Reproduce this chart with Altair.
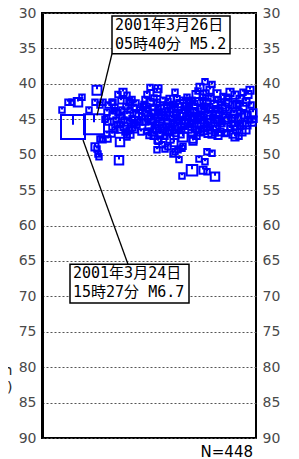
import altair as alt
import pandas as pd

# ---- hypocentres: [distance along section (km), depth (km), magnitude] ----
main_events = [[7.75, 46.1, 6.7], [13.0, 45.7, 5.2]]

west_group = [
    [5.0, 43.7, 1], [6.5, 42.6, 1], [7.5, 42.6, 1], [9.0, 42.6, 2], [10.0, 41.9, 1],
    [11.75, 43.7, 1], [13.75, 40.9, 2.2], [13.25, 42.6, 1], [14.5, 43.0, 1], [15.25, 42.6, 1],
    [16.5, 43.0, 1], [16.25, 44.0, 1], [17.75, 42.6, 1], [15.0, 47.8, 1], [16.5, 47.8, 1],
    [16.25, 47.1, 1], [17.5, 47.1, 1], [15.75, 45.0, 1], [16.5, 45.4, 1], [13.75, 49.2, 1],
    [14.0, 49.9, 1], [14.25, 50.3, 1], [15.25, 47.9, 1], [19.5, 48.2, 2], [21.25, 47.5, 1],
    [19.25, 50.8, 2], [14.5, 47.8, 1], [13.25, 48.9, 1.5],
]

inner_group = [
    [19.0, 41.5, 1], [20.25, 41.2, 1.5], [21.25, 41.6, 1], [22.0, 42.6, 1], [22.5, 42.2, 1],
    [17.5, 42.6, 1], [18.25, 43.3, 1], [17.75, 44.4, 1.5], [19.0, 44.0, 1], [20.0, 43.7, 1],
    [21.0, 43.2, 1], [22.0, 43.7, 1], [23.0, 43.3, 1], [21.25, 44.4, 1.5], [18.5, 45.1, 1],
    [19.5, 45.7, 1], [20.5, 45.1, 1], [21.5, 45.4, 1.5], [22.5, 44.9, 1], [23.5, 44.3, 1],
    [19.5, 46.4, 1.5], [21.25, 47.2, 1], [20.75, 46.8, 1], [22.5, 46.1, 1.5], [23.75, 45.8, 1],
    [17.5, 46.1, 1], [18.25, 46.5, 1], [23.25, 46.5, 1], [22.0, 47.1, 1.5], [24.0, 45.1, 1],
    [24.5, 43.7, 1], [24.5, 45.4, 1], [25.0, 44.6, 1], [23.25, 45.5, 1], [18.75, 45.7, 1],
    [20.0, 44.6, 1], [18.0, 43.8, 1], [19.75, 42.4, 1], [21.75, 42.5, 1], [23.5, 42.7, 1],
    [24.25, 44.2, 1.5], [22.75, 45.6, 1], [20.5, 46.0, 1.5], [21.75, 46.6, 1], [24.75, 46.8, 1],
    [25.25, 43.2, 1],
]

central_group = [
    [27.0, 40.5, 1], [29.0, 40.7, 1.5], [26.25, 41.5, 1], [28.75, 41.2, 1.5], [33.25, 41.2, 1],
    [25.75, 42.2, 1], [26.5, 43.6, 1], [25.5, 42.9, 1], [27.0, 42.6, 1.5], [27.75, 43.3, 1],
    [28.75, 42.6, 1], [29.5, 43.1, 1.5], [30.25, 42.3, 1], [31.25, 43.0, 1], [32.0, 42.2, 1.5],
    [32.75, 42.9, 1], [33.75, 42.1, 1], [34.5, 42.8, 1.5], [35.25, 42.3, 1], [26.0, 44.0, 1.5],
    [27.0, 44.6, 1], [28.0, 44.0, 1], [29.0, 44.7, 1.5], [30.0, 44.0, 1], [30.75, 44.7, 1],
    [31.75, 44.0, 1.5], [32.5, 44.9, 1], [33.5, 44.0, 1], [34.5, 44.6, 1.5], [35.5, 43.7, 1],
    [25.75, 45.4, 1], [26.75, 46.0, 1.5], [27.5, 45.3, 1], [28.5, 45.8, 1], [29.5, 45.4, 1.5],
    [30.25, 46.1, 1], [31.25, 45.4, 1], [32.0, 46.1, 1.5], [33.0, 45.5, 1], [34.0, 46.0, 1.5],
    [35.0, 45.3, 1], [26.25, 46.7, 1], [27.5, 46.8, 1.5], [28.5, 46.5, 1], [29.5, 47.0, 1.5],
    [30.5, 46.5, 1], [31.5, 46.8, 1], [32.5, 46.5, 1.5], [33.5, 47.0, 1], [34.5, 46.5, 1],
    [29.5, 47.2, 1], [29.0, 47.9, 1.5], [26.5, 44.9, 1], [28.25, 44.2, 1.5], [30.0, 45.1, 1],
    [32.0, 44.5, 1.5], [34.0, 45.1, 1], [28.25, 46.3, 1.5], [31.0, 46.0, 1], [33.25, 46.4, 1.5],
    [29.0, 43.6, 1], [32.25, 43.5, 1.5], [35.5, 46.0, 1],
    [26.0, 43.3, 1.5], [27.25, 45.0, 1.5], [28.0, 42.0, 1], [29.75, 44.4, 1.5], [30.5, 43.5, 1.5],
    [31.5, 42.5, 1], [31.0, 44.5, 1.5], [33.0, 43.5, 1.5], [33.75, 44.8, 1], [34.0, 43.3, 1.5],
    [35.0, 44.2, 1.5], [35.75, 45.6, 1.5], [26.75, 47.3, 1], [28.0, 47.3, 1.5], [30.75, 47.4, 1],
    [31.75, 46.6, 1.5], [33.75, 46.0, 1.5], [34.75, 47.2, 1], [30.0, 48.6, 1], [33.0, 48.3, 1.5],
]

deep_scatter = [
    [29.0, 48.1, 1], [32.0, 47.8, 1.5], [35.25, 47.5, 2.2], [37.75, 48.1, 1.5], [28.75, 49.3, 1],
    [30.75, 49.2, 1], [31.5, 48.9, 1], [33.25, 49.6, 1], [32.75, 49.9, 1], [34.0, 49.3, 1],
    [35.0, 49.1, 1], [35.25, 48.8, 1], [34.25, 50.7, 1], [41.25, 49.6, 1], [42.5, 49.8, 1],
    [39.25, 50.6, 1], [40.75, 51.0, 1], [37.5, 52.2, 2.8], [35.0, 53.0, 1], [40.25, 52.2, 1.5],
    [41.25, 52.4, 1], [43.25, 53.1, 2], [48.25, 47.5, 1.5],
]

eastern_group = [
    [40.75, 39.7, 1], [42.5, 40.1, 1], [39.5, 40.5, 1.5], [42.0, 40.9, 1.5], [36.25, 41.9, 1],
    [38.5, 41.5, 1.5], [37.0, 42.6, 1], [36.0, 43.2, 1.5], [37.5, 42.3, 1], [38.25, 43.2, 1],
    [39.25, 42.5, 1.5], [40.25, 41.9, 1], [41.25, 42.6, 1.5], [42.25, 42.0, 1], [43.0, 42.9, 1.5],
    [44.0, 42.2, 1], [45.0, 43.0, 1.5], [36.5, 44.0, 1], [37.5, 44.6, 1.5], [38.5, 43.9, 1],
    [39.5, 44.4, 1.5], [40.5, 43.7, 1], [41.5, 44.4, 1.5], [42.5, 43.7, 1], [43.5, 44.3, 1.5],
    [44.5, 43.7, 1], [45.5, 44.4, 1], [36.0, 45.1, 1.5], [37.0, 45.7, 1], [38.0, 45.1, 1.5],
    [39.0, 45.8, 1], [40.0, 45.1, 1.5], [41.0, 45.7, 1], [42.0, 45.0, 1.5], [43.0, 45.6, 1],
    [44.0, 45.0, 1.5], [45.0, 45.6, 1], [36.5, 46.4, 1.5], [37.5, 47.0, 1.5], [38.5, 46.4, 1],
    [39.5, 46.8, 1.5], [40.5, 46.3, 1], [41.5, 47.0, 1.5], [42.5, 47.1, 1.5], [43.5, 46.3, 1],
    [44.5, 46.8, 1.5], [37.75, 47.8, 1.5], [36.0, 44.5, 1], [38.0, 44.8, 1], [39.75, 45.6, 1.5],
    [41.75, 46.1, 1], [43.75, 45.1, 1.5], [39.25, 46.4, 1], [42.75, 44.7, 1], [45.5, 46.1, 1.5],
    [36.5, 43.5, 1], [40.75, 43.2, 1], [44.25, 44.3, 1],
    [36.75, 42.4, 1], [38.0, 42.9, 1.5], [39.75, 43.7, 1.5], [40.25, 42.4, 1], [41.75, 43.3, 1.5],
    [43.5, 43.5, 1], [44.75, 42.6, 1], [45.75, 43.3, 1.5], [37.0, 43.9, 1.5], [38.75, 44.9, 1.5],
    [40.5, 44.7, 1], [42.25, 45.5, 1.5], [43.25, 46.9, 1], [44.75, 45.3, 1], [46.0, 44.8, 1.5],
    [37.25, 46.1, 1], [38.75, 47.4, 1], [40.5, 46.6, 1.5], [42.0, 46.6, 1], [44.0, 47.3, 1.5],
    [45.75, 47.0, 1], [41.0, 41.3, 1], [39.0, 41.0, 1], [43.75, 41.4, 1.5], [45.25, 41.8, 1],
]

far_east_group = [
    [47.0, 41.2, 1.5], [48.25, 41.6, 1.5], [49.5, 42.2, 1.5], [51.5, 41.5, 1.5], [46.5, 42.6, 1.5],
    [47.75, 43.0, 1.5], [49.0, 42.8, 1], [50.25, 43.2, 1.5], [46.75, 43.7, 1], [48.0, 44.3, 1.5],
    [49.25, 43.9, 1], [50.5, 44.4, 1.5], [46.5, 45.1, 1.5], [47.75, 45.6, 1], [49.0, 45.0, 1.5],
    [50.25, 45.6, 1], [51.25, 45.8, 1.5], [52.5, 45.4, 1.5], [52.0, 45.1, 1], [53.0, 45.0, 1],
    [50.0, 46.8, 1.5], [47.75, 47.1, 1.5], [47.0, 46.3, 1], [48.75, 46.4, 1.5],
    [46.25, 41.9, 1], [48.75, 42.9, 1.5], [51.0, 42.6, 1.5], [52.25, 43.0, 1], [47.5, 44.9, 1.5],
    [49.75, 44.7, 1.5], [51.5, 44.3, 1], [52.75, 44.1, 1.5], [48.25, 45.9, 1.5], [49.5, 46.0, 1],
    [51.0, 46.5, 1.5], [46.25, 46.9, 1], [49.25, 47.4, 1], [52.0, 40.9, 1.5], [50.25, 41.2, 1],
]

# ---- annotations ----
note_texts = ["2001年3月26日\n05時40分 M5.2", "2001年3月24日\n15時27分 M6.7"]
note_left = [17.5, 7.0]
note_right = [47.0, 36.75]
note_top = [30.42, 65.47]
note_bottom = [35.75, 70.94]
leader_from_x = [17.5, 21.5]
leader_from_depth = [35.75, 65.47]
leader_to_x = [13.75, 10.25]
leader_to_depth = [44.44, 47.94]

depth_ticks = list(range(30, 95, 5))
count_label = "N=448"
depth_title = ["Depth", "(km)"]

rows = []
for grp in [west_group, inner_group, central_group, deep_scatter, eastern_group,
            far_east_group, main_events]:
    for x, d, m in grp:
        rows.append({"x": x, "depth": d, "mag": m})
pts = pd.DataFrame(rows)

notes = pd.DataFrame({
    "text": note_texts, "x": note_left, "x2": note_right,
    "top": note_top, "bottom": note_bottom,
    "lx": leader_from_x, "ld": leader_from_depth,
    "tx": leader_to_x, "td": leader_to_depth,
})

xscale = alt.Scale(domain=[0, 53.5], nice=False)
yscale = alt.Scale(domain=[30, 90], reverse=True, nice=False)

left_axis = alt.Axis(
    values=depth_ticks, orient="left", ticks=False, labelPadding=6,
    labelFont="DejaVu Sans", labelFontSize=14, labelColor="#4a4a4a",
    grid=True, gridColor="#555555", gridDash=[2, 2], gridWidth=1,
    domain=True, domainColor="black", domainWidth=3,
    title=depth_title, titleAngle=0, titleX=-30, titleY=361,
    titleAlign="right", titleBaseline="alphabetic", titleFont="DejaVu Sans",
    titleFontSize=14, titleFontWeight="normal", titleColor="#222222", titleLineHeight=17,
)
right_axis = alt.Axis(
    values=depth_ticks, orient="right", ticks=False, labelPadding=6,
    labelFont="DejaVu Sans", labelFontSize=14, labelColor="#4a4a4a",
    grid=False, domain=False, title=None,
)

quake_shape = "M-1,-1H1V1H-1Z M0,-1V-0.2"

points = alt.Chart(pts).mark_point(
    shape=quake_shape, filled=False, color="#0000ff", strokeWidth=2, opacity=1
).encode(
    x=alt.X("x:Q", scale=xscale, axis=None),
    y=alt.Y("depth:Q", scale=yscale, axis=left_axis),
    size=alt.Size("mag:Q", scale=alt.Scale(domain=[1, 2, 3, 5.2, 6.7],
                                            range=[30, 72, 121, 400, 576]), legend=None),
)

right = alt.Chart(pd.DataFrame({"d": [30]})).mark_point(opacity=0).encode(
    y=alt.Y("d:Q", scale=yscale, axis=right_axis),
)

leaders = alt.Chart(notes).mark_rule(color="black", strokeWidth=1.3).encode(
    x=alt.X("lx:Q", scale=xscale, axis=None),
    y=alt.Y("ld:Q", scale=yscale, axis=None),
    x2="tx:Q", y2="td:Q",
)

boxes = alt.Chart(notes).mark_rect(fill="white", stroke="black", strokeWidth=1.5).encode(
    x=alt.X("x:Q", scale=xscale, axis=None), x2="x2:Q",
    y=alt.Y("top:Q", scale=yscale, axis=None), y2="bottom:Q",
)

texts = alt.Chart(notes).mark_text(
    align="left", baseline="top", dx=3, dy=2, lineBreak="\n", lineHeight=19,
    font="DejaVu Sans Mono, Noto Sans CJK JP", fontSize=15, color="black",
).encode(
    x=alt.X("x:Q", scale=xscale, axis=None),
    y=alt.Y("top:Q", scale=yscale, axis=None),
    text="text:N",
)

count = alt.Chart(pd.DataFrame({"t": [count_label]})).mark_text(
    align="right", baseline="alphabetic", font="DejaVu Sans", fontSize=15, color="black",
).encode(x=alt.value(211), y=alt.value(444), text="t:N")

chart = alt.layer(points, right, leaders, boxes, texts, count).resolve_axis(
    y="independent"
).properties(
    width=214, height=425,
    padding={"left": 34, "top": 5, "right": 35, "bottom": 21},
    autosize=alt.AutoSizeParams(type="none"),
).configure_view(stroke="black", strokeWidth=2)

chart.save("out.html", embed_options={"renderer": "svg", "actions": False})
